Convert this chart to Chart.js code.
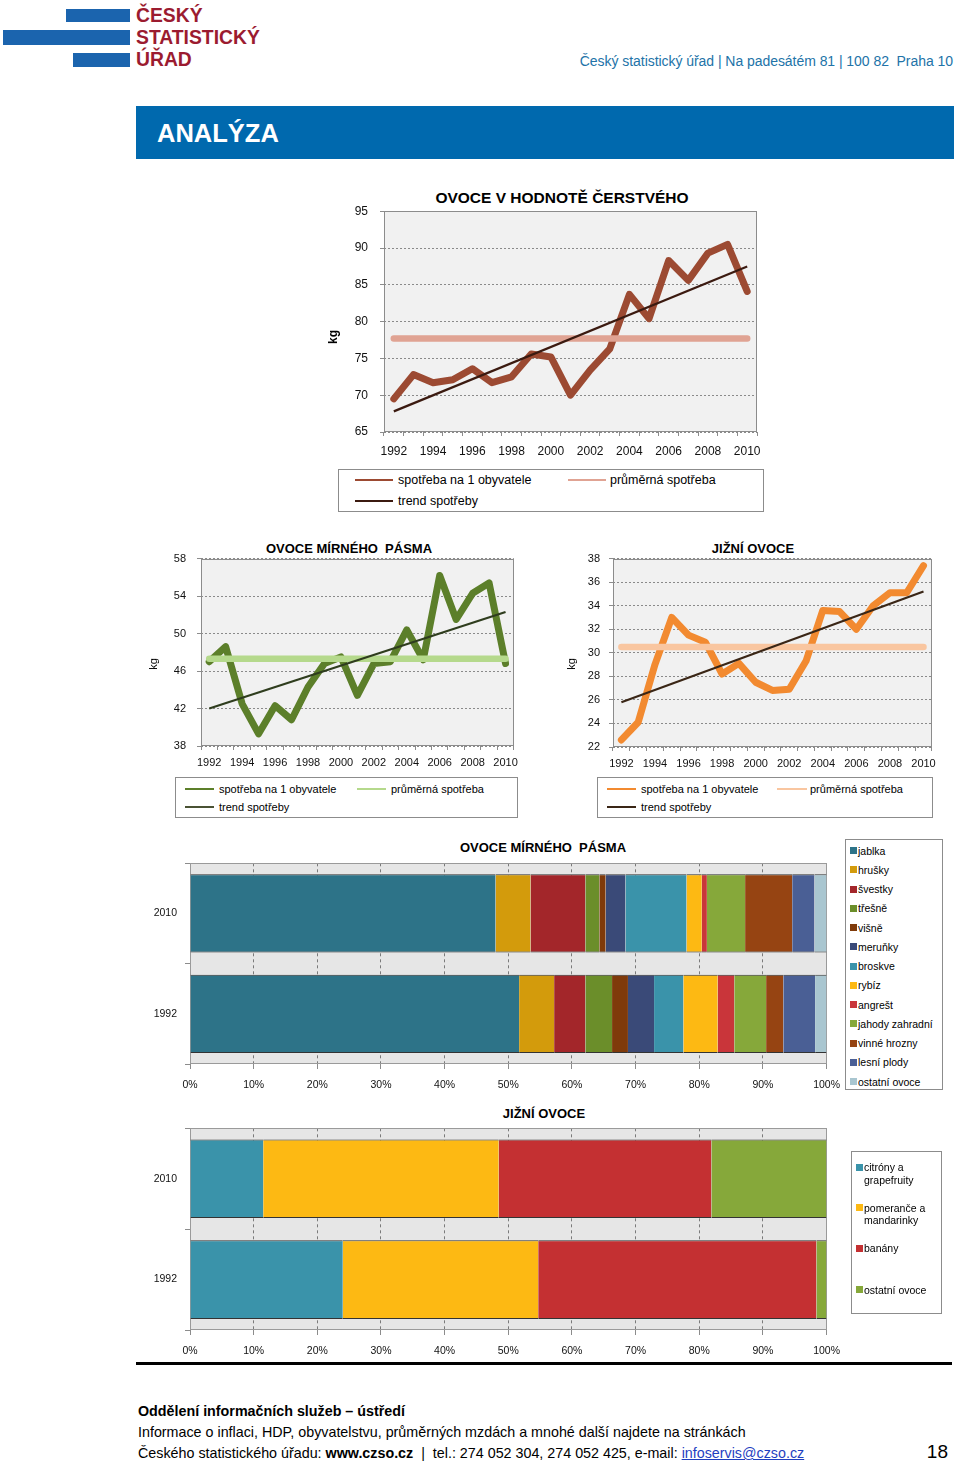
<!DOCTYPE html>
<html lang="cs">
<head>
<meta charset="utf-8">
<title>Spotřeba ovoce</title>
<script src="https://cdn.jsdelivr.net/npm/chart.js@4.4.0/dist/chart.umd.min.js"></script>
<style>
  html, body { margin: 0; padding: 0; }
  body { width: 960px; height: 1467px; position: relative; overflow: hidden; background: #fff;
         font-family: "Liberation Sans", Arial, sans-serif; color: #000; }
  canvas { position: absolute; }
  .a { position: absolute; white-space: nowrap; }
  .logo-bar { position: absolute; background: #1b64ae; }
  .logo-txt { position: absolute; left: 136px; font-weight: bold; font-size: 21px; line-height: 22px; color: #9b1b30;
              transform: scaleX(0.92); transform-origin: left center; }
  .title { position: absolute; text-align: center; font-weight: bold; white-space: nowrap; }
  .box { position: absolute; border: 1px solid #8c8c8c; box-sizing: border-box; background: #fff; }
  .ln { position: absolute; height: 2px; }
  .lt { position: absolute; white-space: nowrap; }
  .sq { position: absolute; width: 7px; height: 7px; }
  .kg { position: absolute; width: 30px; height: 16px; line-height: 16px; text-align: center; transform: rotate(-90deg); }
  .foot { position: absolute; left: 138px; font-size: 14.3px; line-height: 18px; white-space: nowrap; }
</style>
</head>
<body>

<!-- hlavička -->
<div class="logo-bar" style="left:66px;top:9px;width:64px;height:13px"></div>
<div class="logo-bar" style="left:3px;top:30px;width:127px;height:15px"></div>
<div class="logo-bar" style="left:73px;top:53px;width:57px;height:14px"></div>
<div class="logo-txt" style="top:4px">ČESKÝ</div>
<div class="logo-txt" style="top:26px">STATISTICKÝ</div>
<div class="logo-txt" style="top:48px">ÚŘAD</div>
<div class="a" style="right:7px;top:52px;font-size:14px;line-height:18px;color:#2273a8;letter-spacing:-0.05px">Český statistický úřad | Na padesátém 81 | 100 82&nbsp; Praha 10</div>
<div class="a" style="left:136px;top:106px;width:818px;height:53px;background:#0069ae"></div>
<div class="a" style="left:157px;top:118px;font-size:25.5px;line-height:30px;font-weight:bold;color:#fff">ANALÝZA</div>

<!-- grafy spotřeby -->
<div class="title" style="left:362px;top:189px;width:400px;font-size:15.5px;line-height:18px">OVOCE V HODNOTĚ ČERSTVÉHO</div>
<canvas id="graf1" width="448" height="268" style="left:322px;top:192px"></canvas>
<div class="kg" style="left:318px;top:329px;font-size:12px;font-weight:bold">kg</div>
<div class="box" style="left:338px;top:469px;width:426px;height:43px"></div>
<div class="ln" style="left:355px;top:479px;width:38px;background:#9c4a32"></div>
<div class="lt" style="left:398px;top:472px;font-size:12.5px;line-height:16px">spotřeba na 1 obyvatele</div>
<div class="ln" style="left:568px;top:479px;width:38px;background:#e0a393"></div>
<div class="lt" style="left:610px;top:472px;font-size:12.5px;line-height:16px">průměrná spotřeba</div>
<div class="ln" style="left:355px;top:500px;width:38px;background:#3b1a10"></div>
<div class="lt" style="left:398px;top:493px;font-size:12.5px;line-height:16px">trend spotřeby</div>

<div class="title" style="left:249px;top:541px;width:200px;font-size:13px;line-height:16px">OVOCE MÍRNÉHO&nbsp; PÁSMA</div>
<canvas id="graf2" width="382" height="231" style="left:142px;top:541px"></canvas>
<div class="kg" style="left:138px;top:656px;font-size:11px">kg</div>
<div class="box" style="left:175px;top:777px;width:343px;height:41px"></div>
<div class="ln" style="left:185px;top:788px;width:29px;background:#5c7f2a"></div>
<div class="lt" style="left:219px;top:782px;font-size:11px;line-height:14px">spotřeba na 1 obyvatele</div>
<div class="ln" style="left:357px;top:788px;width:29px;background:#b5d98c"></div>
<div class="lt" style="left:391px;top:782px;font-size:11px;line-height:14px">průměrná spotřeba</div>
<div class="ln" style="left:185px;top:806px;width:29px;background:#4a5234"></div>
<div class="lt" style="left:219px;top:800px;font-size:11px;line-height:14px">trend spotřeby</div>

<div class="title" style="left:653px;top:541px;width:200px;font-size:13px;line-height:16px">JIŽNÍ OVOCE</div>
<canvas id="graf3" width="382" height="230" style="left:560px;top:543px"></canvas>
<div class="kg" style="left:556px;top:656px;font-size:11px">kg</div>
<div class="box" style="left:597px;top:777px;width:336px;height:41px"></div>
<div class="ln" style="left:607px;top:788px;width:29px;background:#f28a30"></div>
<div class="lt" style="left:641px;top:782px;font-size:11px;line-height:14px">spotřeba na 1 obyvatele</div>
<div class="ln" style="left:777px;top:788px;width:30px;background:#f9c6a0"></div>
<div class="lt" style="left:810px;top:782px;font-size:11px;line-height:14px">průměrná spotřeba</div>
<div class="ln" style="left:607px;top:806px;width:29px;background:#3a2616"></div>
<div class="lt" style="left:641px;top:800px;font-size:11px;line-height:14px">trend spotřeby</div>

<!-- struktura -->
<div class="title" style="left:443px;top:840px;width:200px;font-size:13px;line-height:16px">OVOCE MÍRNÉHO&nbsp; PÁSMA</div>
<canvas id="graf4" width="710" height="246" style="left:140px;top:849px"></canvas>
<div class="box" id="leg4" style="left:845px;top:839px;width:98px;height:251px"></div>

<div class="title" style="left:444px;top:1106px;width:200px;font-size:13px;line-height:16px">JIŽNÍ OVOCE</div>
<canvas id="graf5" width="710" height="247" style="left:140px;top:1114px"></canvas>
<div class="box" id="leg5" style="left:851px;top:1151px;width:91px;height:163px"></div>

<div class="a" style="left:136px;top:1362px;width:816px;height:3px;background:#000"></div>

<!-- patička -->
<div class="foot" style="top:1402px;font-weight:bold">Oddělení informačních služeb – ústředí</div>
<div class="foot" style="top:1423px">Informace o inflaci, HDP, obyvatelstvu, průměrných mzdách a mnohé další najdete na stránkách</div>
<div class="foot" style="top:1444px">Českého statistického úřadu: <b>www.czso.cz</b> &nbsp;|&nbsp; tel.: 274 052 304, 274 052 425, e-mail: <span style="color:#1f3fbf;text-decoration:underline">infoservis@czso.cz</span></div>
<div class="a" style="right:12px;top:1440px;font-size:19px;line-height:24px">18</div>

<script>
// roky (osa x čárových grafů)
const roky = ['1992', '1993', '1994', '1995', '1996', '1997', '1998', '1999', '2000', '2001',
              '2002', '2003', '2004', '2005', '2006', '2007', '2008', '2009', '2010'];

// ovoce v hodnotě čerstvého, kg na obyvatele
const spotrebaCelkem = [69.5, 72.8, 71.7, 72.1, 73.6, 71.7, 72.5, 75.6, 75.2, 70.0,
                        73.4, 76.3, 83.7, 80.4, 88.3, 85.6, 89.3, 90.5, 84.1];
const prumerCelkem = 77.7;
const trendCelkem = [67.8, 87.5];

// ovoce mírného pásma
const spotrebaMirne = [47.0, 48.6, 42.5, 39.3, 42.3, 40.8, 44.3, 46.8, 47.5, 43.4,
                       46.8, 47.0, 50.4, 47.2, 56.2, 51.5, 54.3, 55.4, 46.8];
const prumerMirne = 47.3;
const trendMirne = [42.0, 52.3];

// jižní ovoce
const spotrebaJizni = [22.6, 24.1, 29.0, 33.0, 31.5, 30.9, 28.2, 29.1, 27.5, 26.8,
                       26.9, 29.3, 33.6, 33.5, 32.0, 34.0, 35.1, 35.1, 37.4];
const prumerJizni = 30.5;
const trendJizni = [25.8, 35.2];

// struktura spotřeby v %
const podilRoky = ['2010', '1992'];
const mirneDruhy = ['jablka', 'hrušky', 'švestky', 'třešně', 'višně', 'meruňky', 'broskve',
                    'rybíz', 'angrešt', 'jahody zahradní', 'vinné hrozny', 'lesní plody', 'ostatní ovoce'];
const mirne2010 = [48.0, 5.5, 8.6, 2.2, 1.0, 3.1, 9.6, 2.4, 0.8, 6.0, 7.4, 3.5, 1.9];
const mirne1992 = [51.7, 5.5, 4.9, 4.2, 2.5, 4.1, 4.6, 5.4, 2.6, 5.0, 2.7, 5.0, 1.8];
const jizniDruhy = ['citróny a grapefruity', 'pomeranče a mandarinky', 'banány', 'ostatní ovoce'];
const jizni2010 = [11.5, 37.0, 33.4, 18.1];
const jizni1992 = [24.0, 30.7, 43.7, 1.6];

const mirneBarvy = ['#2d7388', '#d39b0c', '#a3262a', '#6b8e2a', '#7f3a0a', '#3a4a78', '#3a93aa',
                    '#fdb913', '#c9353a', '#86a83a', '#964412', '#4a5f95', '#a9c6d0'];
const jizniBarvy = ['#3a93aa', '#fdb913', '#c43032', '#86a83a'];

Chart.defaults.font.family = '"Liberation Sans", Arial, sans-serif';
Chart.defaults.color = '#111';

// pozadí a rámeček plochy grafu
const plocha = {
    id: 'plocha',
    beforeDraw(chart, args, opts) {
        const { ctx, chartArea: a } = chart;
        ctx.save();
        ctx.fillStyle = opts.bg;
        ctx.fillRect(a.left, a.top, a.right - a.left, a.bottom - a.top);
        ctx.restore();
    },
    beforeDatasetsDraw(chart, args, opts) {
        const { ctx, chartArea: a } = chart;
        ctx.save();
        ctx.strokeStyle = opts.ram;
        ctx.lineWidth = 1;
        ctx.strokeRect(Math.round(a.left) + 0.5, Math.round(a.top) + 0.5,
                       Math.round(a.right - a.left) - 1, Math.round(a.bottom - a.top) - 1);
        ctx.restore();
    }
};
Chart.register(plocha);

function bod(i, y) {
    return { x: roky[i], y: y };
}

// čárový graf se spotřebou, průměrem a trendem
function caraGraf(id, o) {
    const posl = roky.length - 1;
    return new Chart(document.getElementById(id), {
        type: 'line',
        data: {
            labels: roky,
            datasets: [
                { label: 'spotřeba na 1 obyvatele', data: o.data, borderColor: o.barva, borderWidth: 7,
                  borderJoinStyle: 'round', borderCapStyle: 'round', pointRadius: 0, tension: 0, order: 3 },
                { label: 'průměrná spotřeba', data: [bod(0, o.prumer), bod(posl, o.prumer)], borderColor: o.barvaPrumer,
                  borderWidth: 6.5, borderCapStyle: 'round', pointRadius: 0, order: 2 },
                { label: 'trend spotřeby', data: [bod(0, o.trend[0]), bod(posl, o.trend[1])], borderColor: o.barvaTrend,
                  borderWidth: 2.2, pointRadius: 0, order: 1 }
            ]
        },
        options: {
            responsive: false,
            animation: false,
            devicePixelRatio: 1,
            layout: { padding: { left: 0, top: 0, right: o.padRight, bottom: 0 } },
            plugins: {
                legend: { display: false },
                tooltip: { enabled: false },
                plocha: { bg: '#f1f1f1', ram: '#8c8c8c' }
            },
            scales: {
                x: {
                    offset: true,
                    grid: { offset: true, drawOnChartArea: false, tickLength: 4, color: '#8c8c8c' },
                    border: { display: false },
                    ticks: {
                        autoSkip: false, maxRotation: 0, padding: o.xPad, font: { size: o.font },
                        callback: (v, i) => (i % 2 === 0 ? roky[i] : '')
                    },
                    afterFit: s => { s.height = o.xH; }
                },
                y: {
                    min: o.min, max: o.max,
                    grid: { color: '#8a8a8a', lineWidth: 1, tickLength: 4, tickColor: '#8c8c8c', tickBorderDash: [] },
                    border: { display: false, dash: [2, 2] },
                    ticks: { stepSize: o.krok, padding: o.yPad, font: { size: o.font } },
                    afterFit: s => { s.width = o.yW; }
                }
            }
        }
    });
}

caraGraf('graf1', {
    data: spotrebaCelkem, prumer: prumerCelkem, trend: trendCelkem,
    barva: '#9c4a32', barvaPrumer: '#e0a393', barvaTrend: '#3b1a10',
    min: 65, max: 95, krok: 5, padRight: 13, yW: 62, xH: 28,
    xPad: 8, yPad: 12, font: 12
});
caraGraf('graf2', {
    data: spotrebaMirne, prumer: prumerMirne, trend: trendMirne,
    barva: '#5c7f2a', barvaPrumer: '#b5d98c', barvaTrend: '#2f3d1e',
    min: 38, max: 58, krok: 4, padRight: 8, yW: 59, xH: 26,
    xPad: 6, yPad: 11, font: 11
});
caraGraf('graf3', {
    data: spotrebaJizni, prumer: prumerJizni, trend: trendJizni,
    barva: '#f28a30', barvaPrumer: '#f9c6a0', barvaTrend: '#3a2616',
    min: 22, max: 38, krok: 2, padRight: 10, yW: 53, xH: 26,
    xPad: 6, yPad: 9, font: 11
});

// skládaný pruhový graf struktury (100 %)
function podilGraf(id, druhy, barvy, r2010, r1992) {
    return new Chart(document.getElementById(id), {
        type: 'bar',
        data: {
            labels: podilRoky,
            datasets: druhy.map((d, i) => ({
                label: d,
                data: [r2010[i], r1992[i]],
                backgroundColor: barvy[i],
                borderColor: '#333',
                borderWidth: { top: 1, bottom: 1, left: 0, right: 0 },
                borderSkipped: false,
                categoryPercentage: 0.78,
                barPercentage: 1
            }))
        },
        options: {
            indexAxis: 'y',
            responsive: false,
            animation: false,
            devicePixelRatio: 1,
            layout: { padding: { left: 0, top: 0, right: 18, bottom: 0 } },
            plugins: {
                legend: { display: false },
                tooltip: { enabled: false },
                plocha: { bg: '#e6e6e6', ram: '#9a9a9a' }
            },
            scales: {
                x: {
                    stacked: true, min: 0, max: 100,
                    grid: { color: '#7a7a7a', tickLength: 5, tickColor: '#8c8c8c', tickBorderDash: [] },
                    border: { display: false, dash: [3, 3] },
                    ticks: { stepSize: 10, padding: 10, font: { size: 10.5 }, callback: v => v + '%' },
                    afterFit: s => { s.height = 31; }
                },
                y: {
                    stacked: true,
                    grid: { drawOnChartArea: false, tickLength: 5, color: '#8c8c8c' },
                    border: { display: false },
                    ticks: { padding: 8, font: { size: 10.5 } },
                    afterFit: s => { s.width = 50; }
                }
            }
        }
    });
}

podilGraf('graf4', mirneDruhy, mirneBarvy, mirne2010, mirne1992);
podilGraf('graf5', jizniDruhy, jizniBarvy, jizni2010, jizni1992);

// legendy pruhových grafů
function legenda(boxId, druhy, barvy, stredy, sirka) {
    const box = document.getElementById(boxId);
    druhy.forEach((d, i) => {
        const sq = document.createElement('div');
        sq.className = 'sq';
        sq.style.background = barvy[i];
        sq.style.left = '4px';
        sq.style.top = (stredy[i] - 4) + 'px';
        box.appendChild(sq);
        const t = document.createElement('div');
        t.className = 'lt';
        t.textContent = d;
        t.style.left = '12px';
        t.style.top = (stredy[i] - 6.5) + 'px';
        t.style.fontSize = '10.5px';
        t.style.lineHeight = '12.6px';
        if (sirka) { t.style.whiteSpace = 'normal'; t.style.width = sirka + 'px'; }
        box.appendChild(t);
    });
}
legenda('leg4', mirneDruhy, mirneBarvy,
        [11, 30.2, 49.5, 68.7, 88, 107.2, 126.5, 145.7, 165, 184.2, 203.5, 222.7, 242], 0);
legenda('leg5', jizniDruhy, jizniBarvy, [15.7, 56, 96.7, 138], 70);
</script>
</body>
</html>
